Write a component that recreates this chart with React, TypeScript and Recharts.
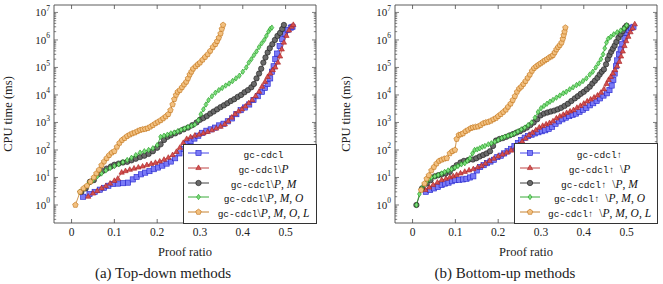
import React from 'react';
import { LineChart, Line, XAxis, YAxis } from 'recharts';

type Pt = [number, number];

// ---------- tick labels ----------
const xTicks = [0, 0.1, 0.2, 0.3, 0.4, 0.5];
const xTickLabels = ['0', '0.1', '0.2', '0.3', '0.4', '0.5'];
const yDecadeExponents = [0, 1, 2, 3, 4, 5, 6, 7];

// ---------- (a) Top-down methods ----------
const topDownCdcl: Pt[] = [
  [0.027, 2], [0.042, 2.5], [0.054, 3], [0.066, 3.6], [0.076, 4.2], [0.086, 5], [0.097, 5.8], [0.108, 6],
  [0.12, 6.2], [0.132, 6.5], [0.143, 8.5], [0.152, 10.5], [0.162, 13], [0.172, 15], [0.182, 17], [0.192, 20],
  [0.202, 23], [0.212, 27], [0.222, 32], [0.232, 38], [0.242, 50], [0.252, 75], [0.262, 110], [0.27, 170],
  [0.278, 210], [0.287, 260], [0.296, 330], [0.305, 420], [0.315, 500], [0.325, 560], [0.335, 650], [0.345, 780],
  [0.355, 900], [0.365, 1100], [0.375, 1400], [0.385, 2000], [0.395, 2800], [0.405, 3500], [0.415, 4500],
  [0.425, 6500], [0.435, 9000], [0.445, 13000], [0.452, 18000], [0.458, 25000], [0.464, 40000], [0.468, 70000],
  [0.472, 110000], [0.476, 200000], [0.48, 320000], [0.486, 600000], [0.492, 1100000], [0.498, 1700000],
  [0.505, 2300000], [0.512, 2800000], [0.516, 3000000],
];
const topDownNoP: Pt[] = [
  [0.039, 2], [0.05, 2.6], [0.06, 3.2], [0.07, 4], [0.08, 4.8], [0.09, 6], [0.1, 7.5], [0.108, 9], [0.117, 15],
  [0.126, 17], [0.136, 19], [0.146, 21], [0.156, 23], [0.166, 25], [0.176, 28], [0.186, 31], [0.196, 34],
  [0.206, 38], [0.216, 44], [0.226, 52], [0.236, 65], [0.245, 85], [0.253, 120], [0.261, 180], [0.269, 250],
  [0.278, 290], [0.288, 330], [0.298, 360], [0.308, 400], [0.318, 450], [0.328, 520], [0.338, 600], [0.348, 700],
  [0.358, 850], [0.366, 1100], [0.374, 1500], [0.382, 2000], [0.39, 2500], [0.398, 3000], [0.406, 3800],
  [0.414, 5000], [0.422, 6500], [0.43, 9000], [0.438, 13000], [0.445, 20000], [0.452, 30000], [0.458, 45000],
  [0.464, 60000], [0.47, 80000], [0.476, 100000], [0.482, 150000], [0.487, 250000], [0.491, 450000],
  [0.496, 800000], [0.502, 1400000], [0.508, 2200000], [0.514, 3000000], [0.518, 3500000],
];
const topDownNoPM: Pt[] = [
  [0.023, 3], [0.033, 4], [0.043, 7], [0.052, 8], [0.062, 13], [0.072, 17], [0.082, 21], [0.092, 25], [0.1, 29],
  [0.11, 32], [0.12, 35], [0.13, 37], [0.14, 42], [0.15, 48], [0.16, 55], [0.17, 62], [0.18, 72], [0.19, 90],
  [0.2, 120], [0.208, 160], [0.216, 230], [0.224, 300], [0.232, 340], [0.242, 400], [0.252, 470], [0.262, 560],
  [0.272, 650], [0.282, 800], [0.292, 1000], [0.3, 1250], [0.308, 1450], [0.316, 1700], [0.324, 2100],
  [0.332, 2500], [0.34, 3000], [0.348, 3600], [0.356, 4200], [0.364, 5000], [0.372, 6000], [0.38, 7000],
  [0.388, 8500], [0.396, 10000], [0.404, 12500], [0.412, 15000], [0.42, 19000], [0.426, 25000], [0.432, 40000],
  [0.438, 60000], [0.443, 90000], [0.448, 150000], [0.453, 230000], [0.458, 350000], [0.463, 500000],
  [0.469, 700000], [0.475, 1000000], [0.481, 1400000], [0.487, 1800000], [0.492, 2500000], [0.496, 3500000],
];
const topDownNoPMO: Pt[] = [
  [0.019, 3], [0.03, 4], [0.04, 6], [0.05, 8], [0.06, 11], [0.07, 14], [0.08, 18], [0.09, 22], [0.1, 26],
  [0.11, 30], [0.12, 36], [0.13, 43], [0.14, 52], [0.15, 65], [0.16, 80], [0.17, 90], [0.18, 100], [0.19, 115],
  [0.2, 150], [0.208, 300], [0.216, 330], [0.224, 360], [0.232, 400], [0.24, 430], [0.248, 480], [0.256, 540],
  [0.264, 600], [0.272, 680], [0.28, 750], [0.288, 850], [0.296, 1200], [0.302, 2000], [0.308, 3000],
  [0.314, 4500], [0.32, 6500], [0.328, 9000], [0.336, 12000], [0.344, 15000], [0.352, 18000], [0.36, 22000],
  [0.368, 26000], [0.376, 32000], [0.384, 40000], [0.392, 50000], [0.4, 70000], [0.408, 100000],
  [0.414, 150000], [0.42, 200000], [0.426, 280000], [0.432, 380000], [0.438, 550000], [0.444, 750000],
  [0.45, 1000000], [0.455, 1400000], [0.46, 2000000], [0.464, 2500000], [0.468, 2800000],
];
const topDownNoPMOL: Pt[] = [
  [0.009, 1], [0.02, 3], [0.028, 4], [0.036, 5], [0.044, 7], [0.052, 10], [0.058, 14], [0.064, 19], [0.07, 28],
  [0.076, 38], [0.082, 50], [0.088, 65], [0.094, 80], [0.1, 90], [0.106, 130], [0.112, 180], [0.118, 230],
  [0.124, 270], [0.13, 320], [0.136, 360], [0.142, 400], [0.148, 430], [0.154, 480], [0.16, 530], [0.166, 560],
  [0.172, 580], [0.178, 620], [0.184, 700], [0.19, 800], [0.196, 930], [0.202, 1050], [0.208, 1200],
  [0.214, 1400], [0.22, 1650], [0.226, 2000], [0.231, 2800], [0.236, 4500], [0.24, 7000], [0.244, 10000],
  [0.248, 13000], [0.253, 15000], [0.258, 19000], [0.263, 24000], [0.268, 30000], [0.272, 40000],
  [0.276, 55000], [0.28, 70000], [0.284, 90000], [0.29, 110000], [0.295, 130000], [0.3, 150000],
  [0.306, 190000], [0.312, 240000], [0.318, 300000], [0.324, 400000], [0.33, 550000], [0.336, 700000],
  [0.34, 900000], [0.344, 1200000], [0.348, 1700000], [0.351, 2500000], [0.354, 3500000],
];

// ---------- (b) Bottom-up methods ----------
const bottomUpCdcl: Pt[] = [
  [0.031, 3], [0.041, 3.5], [0.05, 4], [0.059, 4.5], [0.068, 5.3], [0.076, 6], [0.084, 6.5], [0.092, 7.3],
  [0.1, 8], [0.109, 8.3], [0.118, 8.5], [0.126, 9], [0.134, 10], [0.142, 11], [0.15, 18], [0.158, 24],
  [0.166, 28], [0.174, 33], [0.182, 38], [0.19, 44], [0.198, 55], [0.206, 62], [0.214, 75], [0.222, 90],
  [0.23, 110], [0.238, 140], [0.246, 180], [0.254, 230], [0.262, 280], [0.27, 320], [0.278, 360], [0.286, 400],
  [0.294, 440], [0.302, 480], [0.31, 520], [0.318, 580], [0.326, 700], [0.334, 900], [0.342, 1100],
  [0.35, 1300], [0.358, 1500], [0.366, 1700], [0.374, 1900], [0.382, 2100], [0.39, 2450], [0.398, 2900],
  [0.406, 3400], [0.414, 4200], [0.422, 5000], [0.43, 6000], [0.438, 7500], [0.446, 9500], [0.454, 11500],
  [0.46, 15000], [0.465, 22000], [0.469, 35000], [0.472, 60000], [0.475, 110000], [0.478, 180000],
  [0.482, 300000], [0.486, 450000], [0.49, 700000], [0.495, 1200000], [0.5, 1800000], [0.505, 2300000],
  [0.51, 2700000], [0.516, 3000000],
];
const bottomUpNoP: Pt[] = [
  [0.03, 3.5], [0.039, 4.3], [0.048, 5.3], [0.058, 6.5], [0.068, 8], [0.078, 9], [0.087, 10], [0.095, 11],
  [0.103, 12.3], [0.112, 14], [0.122, 16], [0.132, 18], [0.142, 20], [0.152, 23], [0.161, 26], [0.17, 32],
  [0.18, 40], [0.19, 48], [0.2, 58], [0.21, 68], [0.22, 80], [0.23, 95], [0.24, 115], [0.248, 150],
  [0.256, 200], [0.264, 260], [0.272, 340], [0.28, 420], [0.288, 520], [0.296, 650], [0.304, 750],
  [0.312, 850], [0.32, 950], [0.328, 1100], [0.336, 1400], [0.344, 1650], [0.352, 1900], [0.36, 2200],
  [0.368, 2500], [0.376, 2800], [0.384, 3400], [0.392, 4000], [0.4, 4800], [0.408, 5800], [0.416, 6800],
  [0.424, 8000], [0.432, 9500], [0.44, 12000], [0.447, 16000], [0.453, 25000], [0.458, 35000],
  [0.463, 45000], [0.468, 60000], [0.473, 80000], [0.478, 110000], [0.483, 160000], [0.487, 250000],
  [0.491, 380000], [0.495, 600000], [0.499, 900000], [0.504, 1300000], [0.509, 1900000], [0.514, 2600000],
  [0.519, 3700000],
];
const bottomUpNoPM: Pt[] = [
  [0.009, 1], [0.022, 4], [0.033, 6], [0.042, 8], [0.052, 11], [0.06, 12], [0.068, 13], [0.077, 14],
  [0.087, 16], [0.095, 22], [0.103, 28], [0.112, 35], [0.12, 40], [0.13, 43], [0.141, 45], [0.149, 50],
  [0.157, 58], [0.165, 66], [0.173, 75], [0.181, 90], [0.188, 140], [0.195, 220], [0.203, 250], [0.211, 270],
  [0.219, 300], [0.227, 340], [0.235, 380], [0.243, 430], [0.251, 480], [0.259, 560], [0.267, 650],
  [0.275, 800], [0.283, 1000], [0.291, 1300], [0.299, 1800], [0.307, 2100], [0.315, 2300], [0.323, 2500],
  [0.331, 2700], [0.339, 3000], [0.347, 3400], [0.355, 4000], [0.363, 4800], [0.371, 6000], [0.379, 7500],
  [0.386, 9000], [0.393, 11000], [0.4, 13000], [0.407, 16000], [0.414, 20000], [0.42, 26000], [0.426, 33000],
  [0.432, 42000], [0.437, 55000], [0.442, 70000], [0.447, 85000], [0.452, 130000], [0.456, 200000],
  [0.46, 280000], [0.464, 370000], [0.468, 480000], [0.472, 620000], [0.476, 850000], [0.481, 1200000],
  [0.486, 1600000], [0.491, 2100000], [0.496, 2800000], [0.5, 3300000],
];
const bottomUpNoPMO: Pt[] = [
  [0.009, 1], [0.016, 2.5], [0.021, 4], [0.027, 5.5], [0.033, 7], [0.039, 9], [0.044, 10], [0.052, 11],
  [0.06, 12.3], [0.068, 14], [0.075, 16], [0.083, 18], [0.091, 20], [0.099, 23], [0.106, 26], [0.114, 30],
  [0.122, 33], [0.128, 40], [0.134, 50], [0.14, 75], [0.145, 100], [0.151, 105], [0.157, 115], [0.163, 130],
  [0.169, 140], [0.177, 160], [0.184, 175], [0.192, 200], [0.2, 230], [0.208, 270], [0.215, 300],
  [0.223, 330], [0.231, 355], [0.238, 400], [0.246, 470], [0.254, 560], [0.262, 650], [0.27, 800],
  [0.278, 1000], [0.286, 1500], [0.293, 2400], [0.3, 3300], [0.307, 4000], [0.314, 4800], [0.321, 5700],
  [0.328, 6600], [0.336, 8000], [0.344, 9500], [0.352, 11500], [0.359, 13000], [0.367, 16000],
  [0.375, 19000], [0.383, 23000], [0.39, 26000], [0.398, 32000], [0.406, 40000], [0.414, 55000],
  [0.421, 70000], [0.428, 100000], [0.434, 140000], [0.44, 200000], [0.445, 300000], [0.449, 500000],
  [0.453, 800000], [0.457, 1100000], [0.463, 1300000], [0.47, 1600000], [0.478, 1900000], [0.486, 2200000],
  [0.494, 2600000], [0.5, 3400000],
];
const bottomUpNoPMOL: Pt[] = [
  [0.02, 3.5], [0.028, 6], [0.033, 9], [0.038, 12], [0.044, 18], [0.05, 24], [0.056, 32], [0.062, 40],
  [0.068, 44], [0.074, 48], [0.08, 50], [0.087, 75], [0.093, 90], [0.099, 100], [0.103, 250], [0.108, 350],
  [0.113, 370], [0.118, 400], [0.124, 480], [0.13, 540], [0.136, 620], [0.141, 660], [0.147, 690],
  [0.153, 710], [0.159, 800], [0.165, 930], [0.171, 1000], [0.177, 1050], [0.183, 1150], [0.189, 1300],
  [0.195, 1450], [0.2, 1700], [0.206, 2000], [0.212, 2400], [0.218, 2900], [0.223, 3700], [0.229, 4800],
  [0.234, 6500], [0.239, 9000], [0.244, 13000], [0.249, 17000], [0.254, 20000], [0.259, 25000],
  [0.264, 32000], [0.269, 42000], [0.274, 55000], [0.279, 75000], [0.284, 95000], [0.289, 110000],
  [0.294, 125000], [0.299, 140000], [0.304, 160000], [0.309, 180000], [0.314, 200000], [0.319, 230000],
  [0.324, 250000], [0.328, 280000], [0.332, 350000], [0.336, 450000], [0.34, 550000], [0.344, 650000],
  [0.348, 800000], [0.351, 1100000], [0.353, 1500000], [0.355, 2000000], [0.357, 2800000],
];

// ---------- legend labels ----------
const legendTopDown = [
  { tt: 'gc-cdcl', sets: [] as string[] },
  { tt: 'gc-cdcl', sets: ['P'] },
  { tt: 'gc-cdcl', sets: ['P', 'M'] },
  { tt: 'gc-cdcl', sets: ['P', 'M', 'O'] },
  { tt: 'gc-cdcl', sets: ['P', 'M', 'O', 'L'] },
];
const legendBottomUp = [
  { tt: 'gc-cdcl↑', sets: [] as string[] },
  { tt: 'gc-cdcl↑ ', sets: ['P'] },
  { tt: 'gc-cdcl↑ ', sets: ['P', 'M'] },
  { tt: 'gc-cdcl↑ ', sets: ['P', 'M', 'O'] },
  { tt: 'gc-cdcl↑ ', sets: ['P', 'M', 'O', 'L'] },
];

// ---------- styles ----------
const SERIF = "'Liberation Serif', 'DejaVu Serif', serif";
const MONO = "'Liberation Mono', 'DejaVu Sans Mono', monospace";
const FRAME = '#4a4a4a';
const X_DOMAIN: [number, number] = [-0.041, 0.571];
const Y_DOMAIN: [number, number] = [Math.pow(10, -0.655), Math.pow(10, 7.27)];

const STYLES = [
  { shape: 'square', line: '#3030e8', stroke: '#2222cc', fill: '#7a7af6' },
  { shape: 'triangle', line: '#b83030', stroke: '#a82222', fill: '#d45050' },
  { shape: 'circle', line: '#2a2a2a', stroke: '#1a1a1a', fill: '#6a6a6a' },
  { shape: 'diamond', line: '#22a022', stroke: '#1a981a', fill: '#7ede7e' },
  { shape: 'pentagon', line: '#c07418', stroke: '#c06e10', fill: '#f2c080' },
];

const yTicks: number[] = (() => {
  const out: number[] = [];
  for (let k = -1; k <= 7; k++) {
    for (let m = 1; m <= 9; m++) {
      const v = m * Math.pow(10, k);
      if (v >= Y_DOMAIN[0] && v <= Y_DOMAIN[1]) out.push(v);
    }
  }
  return out;
})();

function Marker({ shape, cx, cy, stroke, fill }: any) {
  const sw = 0.6;
  if (shape === 'square') {
    return <rect x={cx - 2.6} y={cy - 2.6} width={5.2} height={5.2} fill={fill} stroke={stroke} strokeWidth={sw} />;
  }
  if (shape === 'triangle') {
    const r = 3.1;
    const pts = `${cx},${cy - r} ${cx + r * 0.866},${cy + r / 2} ${cx - r * 0.866},${cy + r / 2}`;
    return <polygon points={pts} fill={fill} stroke={stroke} strokeWidth={sw} />;
  }
  if (shape === 'circle') {
    return <circle cx={cx} cy={cy} r={2.7} fill={fill} stroke={stroke} strokeWidth={sw} />;
  }
  if (shape === 'diamond') {
    const pts = `${cx},${cy - 2.7} ${cx + 1.9},${cy} ${cx},${cy + 2.7} ${cx - 1.9},${cy}`;
    return <polygon points={pts} fill={fill} stroke={stroke} strokeWidth={sw} />;
  }
  const r = 2.9;
  const pts = [0, 1, 2, 3, 4]
    .map((i) => {
      const a = -Math.PI / 2 + (i * 2 * Math.PI) / 5;
      return `${cx + r * Math.cos(a)},${cy + r * Math.sin(a)}`;
    })
    .join(' ');
  return <polygon points={pts} fill={fill} stroke={stroke} strokeWidth={sw} />;
}

const isDecade = (v: number) => {
  const lg = Math.log10(v);
  return Math.abs(lg - Math.round(lg)) < 1e-6;
};

const BottomTick = (p: any) => {
  const { x, y, payload } = p;
  const i = xTicks.findIndex((t) => Math.abs(t - payload.value) < 1e-9);
  return (
    <g>
      <line x1={x} x2={x} y1={y} y2={y - 4} stroke={FRAME} strokeWidth={0.8} />
      <text x={x} y={y + 12.5} textAnchor="middle" fontSize={11.5} fill="#222" fontFamily={SERIF}>
        {i >= 0 ? xTickLabels[i] : ''}
      </text>
    </g>
  );
};
const TopTick = (p: any) => {
  const { x, y } = p;
  return <line x1={x} x2={x} y1={y} y2={y + 4} stroke={FRAME} strokeWidth={0.8} />;
};
const LeftTick = (p: any) => {
  const { x, y, payload } = p;
  const v = payload.value;
  const major = isDecade(v);
  const ax = x + 4;
  const e = Math.round(Math.log10(v));
  return (
    <g>
      <line x1={ax} x2={ax + (major ? 4 : 2.2)} y1={y} y2={y} stroke={FRAME} strokeWidth={0.7} />
      {major && yDecadeExponents.includes(e) ? (
        <text x={ax - 4} y={y + 3.8} textAnchor="end" fontSize={11} fill="#222" fontFamily={SERIF}>
          10
          <tspan dy={-5.5} fontSize={7.5}>
            {String(e)}
          </tspan>
        </text>
      ) : null}
    </g>
  );
};
const RightTick = (p: any) => {
  const { x, y, payload } = p;
  const major = isDecade(payload.value);
  return <line x1={x} x2={x - (major ? 4 : 2.2)} y1={y} y2={y} stroke={FRAME} strokeWidth={0.7} />;
};

const makeDot = (st: any) => (p: any) => {
  const { cx, cy, index } = p;
  if (cx == null || cy == null || isNaN(cx) || isNaN(cy)) return <g key={`d${index}`} />;
  return <Marker key={`d${index}`} shape={st.shape} cx={cx} cy={cy} stroke={st.stroke} fill={st.fill} />;
};

function LegendLabel({ tt, sets }: { tt: string; sets: string[] }) {
  return (
    <span style={{ whiteSpace: 'nowrap' }}>
      <span style={{ fontFamily: MONO, fontSize: 9.5 }}>{tt}</span>
      {sets.length > 0 ? (
        <span style={{ fontFamily: SERIF, fontSize: 11.5 }}>
          {'\\'}
          {sets.map((s, i) => (
            <React.Fragment key={i}>
              {i > 0 ? ', ' : ''}
              <i>{s}</i>
            </React.Fragment>
          ))}
        </span>
      ) : null}
    </span>
  );
}

function Legend({ left, top, width, height, labels, sampleL, sampleR }: any) {
  const rows = [153, 167.8, 182.7, 197.4, 212.2];
  return (
    <div
      style={{
        position: 'absolute',
        left,
        top,
        width,
        height,
        boxSizing: 'border-box',
        border: `1px solid #333`,
        background: '#fff',
      }}
    >
      {labels.map((lab: any, i: number) => {
        const st = STYLES[i];
        const cy = rows[i] - top - 1;
        return (
          <React.Fragment key={i}>
            <svg
              width={sampleR + 4}
              height={14}
              style={{ position: 'absolute', left: 0, top: cy - 7, overflow: 'visible' }}
            >
              <line x1={sampleL} x2={sampleR} y1={7} y2={7} stroke={st.line} strokeWidth={0.9} />
              <Marker shape={st.shape} cx={(sampleL + sampleR) / 2} cy={7} stroke={st.stroke} fill={st.fill} />
            </svg>
            <div
              style={{
                position: 'absolute',
                left: sampleR + 2,
                right: 0,
                top: cy - 8,
                height: 16,
                lineHeight: '16px',
                textAlign: 'center',
                color: '#111',
              }}
            >
              <LegendLabel tt={lab.tt} sets={lab.sets} />
            </div>
          </React.Fragment>
        );
      })}
    </div>
  );
}

function Panel({ left, width, axisW, marginRight, series }: any) {
  return (
    <div style={{ position: 'absolute', left, top: 0, width, height: 284 }}>
      <LineChart width={width} height={284} margin={{ top: 4, right: marginRight, bottom: 31, left: 0 }}>
        <XAxis
          xAxisId="b"
          type="number"
          dataKey="x"
          domain={X_DOMAIN}
          allowDataOverflow
          ticks={xTicks}
          interval={0}
          height={30}
          tickSize={0}
          tickMargin={0}
          tickLine={false}
          axisLine={{ stroke: FRAME, strokeWidth: 0.9 }}
          tick={<BottomTick />}
        />
        <XAxis
          xAxisId="t"
          orientation="top"
          type="number"
          dataKey="x"
          domain={X_DOMAIN}
          allowDataOverflow
          ticks={xTicks}
          interval={0}
          height={1}
          tickSize={0}
          tickMargin={0}
          tickLine={false}
          axisLine={{ stroke: FRAME, strokeWidth: 0.9 }}
          tick={<TopTick />}
        />
        <YAxis
          yAxisId="l"
          type="number"
          scale="log"
          domain={Y_DOMAIN}
          allowDataOverflow
          ticks={yTicks}
          interval={0}
          width={axisW}
          tickSize={0}
          tickMargin={4}
          tickLine={false}
          axisLine={{ stroke: FRAME, strokeWidth: 0.9 }}
          tick={<LeftTick />}
        />
        <YAxis
          yAxisId="r"
          orientation="right"
          type="number"
          scale="log"
          domain={Y_DOMAIN}
          allowDataOverflow
          ticks={yTicks}
          interval={0}
          width={1}
          tickSize={0}
          tickMargin={0}
          tickLine={false}
          axisLine={{ stroke: FRAME, strokeWidth: 0.9 }}
          tick={<RightTick />}
        />
        {series.map((pts: Pt[], i: number) => (
          <Line
            key={i}
            xAxisId="b"
            yAxisId="l"
            type="linear"
            data={pts.map(([x, y]) => ({ x, y }))}
            dataKey="y"
            stroke={STYLES[i].line}
            strokeWidth={0.75}
            dot={makeDot(STYLES[i])}
            activeDot={false}
            isAnimationActive={false}
          />
        ))}
      </LineChart>
    </div>
  );
}

const textStyle: React.CSSProperties = {
  position: 'absolute',
  fontFamily: SERIF,
  color: '#222',
  whiteSpace: 'nowrap',
  transform: 'translate(-50%, -50%)',
};

export default function App() {
  return (
    <div
      style={{
        position: 'absolute',
        left: 0,
        top: 0,
        width: 663,
        height: 284,
        background: '#fff',
        overflow: 'hidden',
      }}
    >
      <Panel
        left={0}
        width={331}
        axisW={54}
        marginRight={14}
        series={[topDownCdcl, topDownNoP, topDownNoPM, topDownNoPMO, topDownNoPMOL]}
      />
      <Panel
        left={331}
        width={332}
        axisW={64}
        marginRight={5}
        series={[bottomUpCdcl, bottomUpNoP, bottomUpNoPM, bottomUpNoPMO, bottomUpNoPMOL]}
      />
      <Legend left={183} top={144} width={134} height={80} labels={legendTopDown} sampleL={4} sampleR={25} />
      <Legend left={514} top={143} width={144} height={81} labels={legendBottomUp} sampleL={5} sampleR={25} />

      <div style={{ ...textStyle, left: 7.5, top: 114, fontSize: 12.5, transform: 'translate(-50%, -50%) rotate(-90deg)' }}>
        CPU time (ms)
      </div>
      <div style={{ ...textStyle, left: 346, top: 114, fontSize: 12.5, transform: 'translate(-50%, -50%) rotate(-90deg)' }}>
        CPU time (ms)
      </div>
      <div style={{ ...textStyle, left: 185, top: 252, fontSize: 12.5 }}>Proof ratio</div>
      <div style={{ ...textStyle, left: 526, top: 252, fontSize: 12.5 }}>Proof ratio</div>
      <div style={{ ...textStyle, left: 163, top: 273, fontSize: 15 }}>(a) Top-down methods</div>
      <div style={{ ...textStyle, left: 505, top: 273, fontSize: 15 }}>(b) Bottom-up methods</div>
    </div>
  );
}
